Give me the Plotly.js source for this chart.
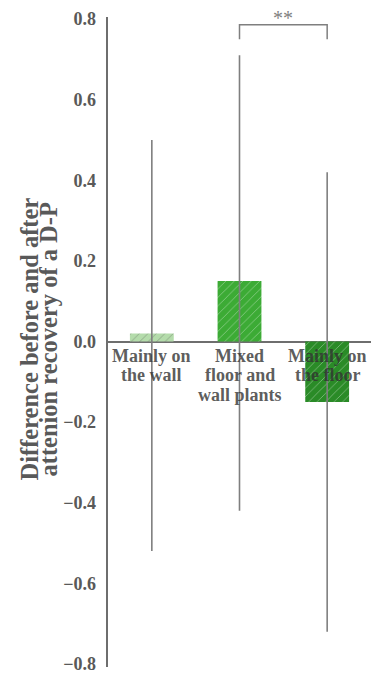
<!DOCTYPE html>
<html>
<head>
<meta charset="utf-8">
<script src="https://cdn.plot.ly/plotly-3.0.1.min.js"></script>
<style>
  html, body { margin: 0; padding: 0; background: #ffffff; }
  #chart { width: 371px; height: 675px; }
</style>
</head>
<body>
<div id="chart"></div>
<script>
// Plant arrangement groups (lines of each label separated by <br>)
const categories = ["Mainly on<br>the wall", "Mixed<br>floor and<br>wall plants", "Mainly on<br>the floor"];
// Mean difference before/after attention recovery
const means = [0.02, 0.15, -0.15];
// Whisker extents (upper and lower ends)
const upperEnds = [0.50, 0.71, 0.42];
const lowerEnds = [-0.52, -0.42, -0.72];
// Bar fills and hatch colours
const barColors = ["#b4dcab", "#3cab35", "#2a8b27"];
const hatchColors = ["#8cbf82", "#2a8a24", "#1d6a1a"];
// Y axis ticks
const yTicks = [-0.8, -0.6, -0.4, -0.2, 0.0, 0.2, 0.4, 0.6, 0.8];
// Significance marker between groups 2 and 3
const sigPair = [1, 2];
const sigText = "**";
const yTitleLines = ["Difference before and after", "attenion recovery of a D-P"];

const serif = "Liberation Serif";
const grey = "#595959";
const yRange = [-0.8075, 0.805];

const trace = {
  type: "bar",
  x: categories.map((c, i) => i),
  y: means,
  width: 0.5,
  marker: {
    color: barColors,
    line: { width: 0 },
    pattern: {
      shape: "/",
      fillmode: "overlay",
      bgcolor: barColors,
      fgcolor: hatchColors,
      fgopacity: 0.45,
      size: 6,
      solidity: 0.12
    }
  },
  error_y: {
    type: "data",
    symmetric: false,
    array: upperEnds.map((u, i) => u - means[i]),
    arrayminus: lowerEnds.map((l, i) => means[i] - l),
    color: "#7f7f7f",
    thickness: 1.6,
    width: 0
  },
  hoverinfo: "skip"
};

// Rotated y-axis title, one annotation per line for tight leading
const annotations = yTitleLines.map((line, i) => ({
  text: "<b>" + line + "</b>",
  xref: "paper", yref: "y",
  x: 0, y: 0,
  xanchor: "center", yanchor: "middle",
  xshift: [-79, -60][i], yshift: 2,
  textangle: -90,
  showarrow: false,
  font: { family: serif, size: 24.5, color: grey }
}));

// Category labels hanging just under the zero line
categories.forEach((label, ci) => {
  label.split("<br>").forEach((line, li) => {
    annotations.push({
      text: "<b>" + line + "</b>",
      xref: "x", yref: "y",
      x: ci, y: 0,
      xanchor: "center", yanchor: "top",
      yshift: -2 - 19.5 * li,
      showarrow: false,
      font: { family: serif, size: 18, color: "rgba(50,50,50,0.8)" }
    });
  });
});

annotations.push({
  text: sigText,
  xref: "x", yref: "y",
  x: (sigPair[0] + sigPair[1]) / 2, y: 0.786,
  xanchor: "center", yanchor: "bottom",
  yshift: -6,
  showarrow: false,
  font: { family: serif, size: 20, color: "#7f7f7f" }
});

const shapes = [{
  type: "path",
  xref: "x", yref: "y",
  path: `M ${sigPair[0]},0.75 L ${sigPair[0]},0.786 L ${sigPair[1]},0.786 L ${sigPair[1]},0.75`,
  line: { color: "#7f7f7f", width: 1.5 }
}];

// Bold tick text with a true minus sign
const yTickText = yTicks.map(v => "<b>" + (v < 0 ? "\u2212" : "") + Math.abs(v).toFixed(1) + "</b>");

const layout = {
  width: 371,
  height: 675,
  margin: { l: 108, r: 0, t: 17, b: 8 },
  paper_bgcolor: "#ffffff",
  plot_bgcolor: "#ffffff",
  showlegend: false,
  xaxis: {
    range: [-0.5, 2.5],
    showgrid: false,
    zeroline: false,
    showline: false,
    showticklabels: false,
    ticks: "",
    fixedrange: true
  },
  yaxis: {
    range: yRange,
    tickvals: yTicks,
    ticktext: yTickText,
    showgrid: false,
    zeroline: true,
    zerolinecolor: "#6e6e6e",
    zerolinewidth: 2,
    showline: true,
    linecolor: "#6e6e6e",
    linewidth: 2.5,
    ticks: "",
    ticklabelstandoff: 6,
    layer: "below traces",
    tickfont: { family: serif, size: 18, color: grey },
    fixedrange: true
  },
  annotations: annotations,
  shapes: shapes
};

Plotly.newPlot("chart", [trace], layout, { staticPlot: true, displayModeBar: false });
</script>
</body>
</html>
